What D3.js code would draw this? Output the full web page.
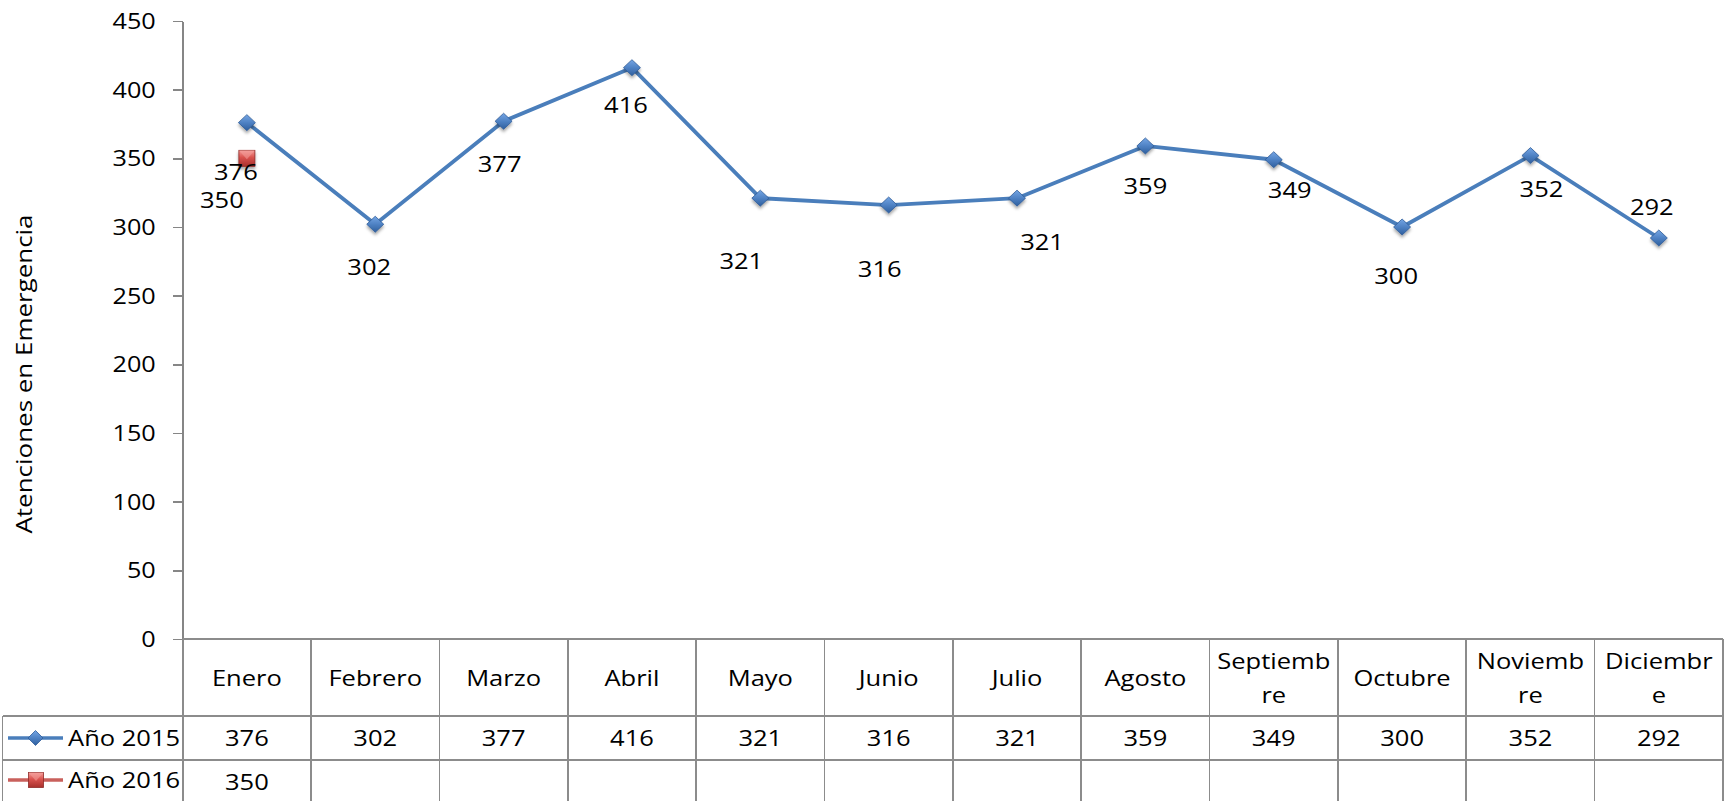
<!DOCTYPE html>
<html lang="es">
<meta charset="utf-8">
<script src="https://cdn.jsdelivr.net/npm/d3@7"></script>
<style>
  body { margin: 0; background: #fff; }
  svg text { font-family: "Open Sans", "Noto Sans", sans-serif; fill: #000; }
  .axis path, .axis line { stroke: #868686; stroke-width: 1.6px; shape-rendering: crispEdges; }
  .grid line { stroke: #8c8c8c; stroke-width: 1.6px; shape-rendering: crispEdges; }
</style>
<body>
<script>
// data
var months = ["Enero", "Febrero", "Marzo", "Abril", "Mayo", "Junio", "Julio",
              "Agosto", "Septiembre", "Octubre", "Noviembre", "Diciembre"];
// header text as it wraps in the table
var monthLines = [["Enero"], ["Febrero"], ["Marzo"], ["Abril"], ["Mayo"], ["Junio"], ["Julio"],
                  ["Agosto"], ["Septiemb", "re"], ["Octubre"], ["Noviemb", "re"], ["Diciembr", "e"]];
var y2015 = [376, 302, 377, 416, 321, 316, 321, 359, 349, 300, 352, 292];
var y2016 = [350, null, null, null, null, null, null, null, null, null, null, null];
var seriesNames = ["Año 2015", "Año 2016"];
var yTicks = [0, 50, 100, 150, 200, 250, 300, 350, 400, 450];
var yTitle = "Atenciones en Emergencia";

// where excel left each value label (px, relative to its point)
var nudge2015 = [[-11, 49], [-6, 43], [-4, 43], [-6, 37], [-19, 63], [-9, 64],
                 [25, 44], [0, 40], [16, 30], [-6, 49], [11, 33], [-7, -31]];
var nudge2016 = [[-25, 42]];

var W = 1733, H = 801;
var plotL = 182.7, plotR = 1723, plotT = 21, plotB = 639;
var rowTop = [639, 716, 760, 804];
var stretch = 1.16; // glyphs in the picture are wider than Open Sans

var svg = d3.select("body").append("svg")
    .attr("width", W).attr("height", H);

var defs = svg.append("defs");
var gb = defs.append("linearGradient").attr("id", "gblue").attr("x1", 0).attr("y1", 0).attr("x2", 0).attr("y2", 1);
gb.append("stop").attr("offset", "0%").attr("stop-color", "#74a5e4");
gb.append("stop").attr("offset", "50%").attr("stop-color", "#4f82c4");
gb.append("stop").attr("offset", "100%").attr("stop-color", "#2f5f9e");
var gr = defs.append("linearGradient").attr("id", "gred").attr("x1", 0).attr("y1", 0).attr("x2", 0).attr("y2", 1);
gr.append("stop").attr("offset", "0%").attr("stop-color", "#f59a96");
gr.append("stop").attr("offset", "45%").attr("stop-color", "#d9524e");
gr.append("stop").attr("offset", "100%").attr("stop-color", "#a8302c");
var sh = defs.append("filter").attr("id", "shadow").attr("x", "-50%").attr("y", "-50%").attr("width", "200%").attr("height", "200%");
sh.append("feDropShadow").attr("dx", 0).attr("dy", 2.5).attr("stdDeviation", 1.8)
    .attr("flood-color", "#000").attr("flood-opacity", 0.35);

var x = d3.scaleBand().domain(months).range([plotL, plotR]);
var y = d3.scaleLinear().domain([0, 450]).range([plotB, plotT]);
var cx = function(m) { return x(m) + x.bandwidth() / 2; };

// text with the horizontal stretch, centred vertically on cy
function label(g, tx, cy, str, size, anchor) {
    return g.append("text")
        .attr("transform", "translate(" + tx + "," + (cy + size * 0.36) + ") scale(" + stretch + ",1)")
        .attr("text-anchor", anchor || "middle")
        .style("font-size", size + "px")
        .text(str);
}

// y axis
var yAxis = svg.append("g")
    .attr("class", "axis")
    .attr("transform", "translate(" + plotL + ",0)")
    .call(d3.axisLeft(y).tickValues(yTicks).tickSize(10).tickSizeOuter(0));
yAxis.selectAll("text")
    .attr("x", null).attr("dy", null)
    .attr("transform", "translate(-27,7.6) scale(1.2,1)")
    .style("font-size", "21px")
    .style("font-family", "'Open Sans', sans-serif")
    .attr("fill", "#000");

// axis title
svg.append("text")
    .attr("transform", "translate(32,374) rotate(-90) scale(1.18,1)")
    .attr("text-anchor", "middle")
    .style("font-size", "22px")
    .text(yTitle);

// data table grid
var grid = svg.append("g").attr("class", "grid");
grid.append("line").attr("x1", plotL).attr("x2", plotR).attr("y1", rowTop[0]).attr("y2", rowTop[0]);
[1, 2, 3].forEach(function(r) {
    grid.append("line").attr("x1", 2.5).attr("x2", plotR).attr("y1", rowTop[r]).attr("y2", rowTop[r]);
});
grid.append("line").attr("x1", 2.5).attr("x2", 2.5).attr("y1", rowTop[1]).attr("y2", rowTop[3]);
months.forEach(function(m) {
    grid.append("line").attr("x1", x(m)).attr("x2", x(m)).attr("y1", rowTop[0]).attr("y2", rowTop[3]);
});
grid.append("line").attr("x1", plotR).attr("x2", plotR).attr("y1", rowTop[0]).attr("y2", rowTop[3]);

// header row
var tbl = svg.append("g");
months.forEach(function(m, i) {
    var lines = monthLines[i];
    var mid = (rowTop[0] + rowTop[1]) / 2 + 0.5;
    lines.forEach(function(t, k) {
        var cy = mid + (k - (lines.length - 1) / 2) * 34;
        label(tbl, cx(m), cy, t, 22);
    });
});

// value rows
var rowsData = [y2015, y2016];
rowsData.forEach(function(vals, r) {
    var cy = (rowTop[r + 1] + rowTop[r + 2]) / 2;
    vals.forEach(function(v, i) {
        if (v != null) label(tbl, cx(months[i]), cy, v, 22);
    });
});

// markers
function diamond(g, px, py, w, h) {
    return g.append("path")
        .attr("d", "M" + px + "," + (py - h) + "L" + (px + w) + "," + py + "L" + px + "," + (py + h) + "L" + (px - w) + "," + py + "Z")
        .attr("fill", "url(#gblue)")
        .attr("stroke", "#2e5c98").attr("stroke-width", 0.8);
}
function square(g, px, py, s) {
    g.append("rect")
        .attr("x", px - s).attr("y", py - s).attr("width", 2 * s).attr("height", 2 * s)
        .attr("fill", "url(#gred)")
        .attr("stroke", "#8e2a27").attr("stroke-width", 0.8);
    g.append("path")
        .attr("d", "M" + (px - s) + "," + (py - s) + "L" + px + "," + (py + 1) + "L" + (px + s) + "," + (py - s) + "Z")
        .attr("fill", "#f4a09c").attr("opacity", 0.55);
}

// legend keys in the table
var leg = svg.append("g");
var legY = [(rowTop[1] + rowTop[2]) / 2, (rowTop[2] + rowTop[3]) / 2 - 2];
leg.append("line").attr("x1", 8).attr("x2", 63).attr("y1", legY[0]).attr("y2", legY[0])
    .attr("stroke", "#4a7ebb").attr("stroke-width", 3.3);
diamond(leg, 35.5, legY[0], 7.5, 7.5);
leg.append("line").attr("x1", 8).attr("x2", 63).attr("y1", legY[1]).attr("y2", legY[1])
    .attr("stroke", "#c9605c").attr("stroke-width", 3.3);
square(leg, 36, legY[1], 7.5);
seriesNames.forEach(function(s, r) {
    label(leg, 68, legY[r], s, 22, "start");
});

// 2015 line
var line = d3.line()
    .defined(function(d) { return d != null; })
    .x(function(d, i) { return cx(months[i]); })
    .y(function(d) { return y(d); });

var plot = svg.append("g");
plot.append("path")
    .attr("d", line(y2015))
    .attr("fill", "none")
    .attr("stroke", "#4a7ebb")
    .attr("stroke-width", 3.8)
    .attr("stroke-linejoin", "round");

var mk = plot.append("g").attr("filter", "url(#shadow)");
y2015.forEach(function(v, i) {
    diamond(mk, cx(months[i]), y(v), 8.5, 8);
});
y2016.forEach(function(v, i) {
    if (v != null) square(mk, cx(months[i]), y(v), 8);
});

// value labels
var lab = svg.append("g");
y2015.forEach(function(v, i) {
    label(lab, cx(months[i]) + nudge2015[i][0], y(v) + nudge2015[i][1], v, 22);
});
y2016.forEach(function(v, i) {
    if (v != null) label(lab, cx(months[i]) + nudge2016[i][0], y(v) + nudge2016[i][1], v, 22);
});
</script>
</body>
</html>
